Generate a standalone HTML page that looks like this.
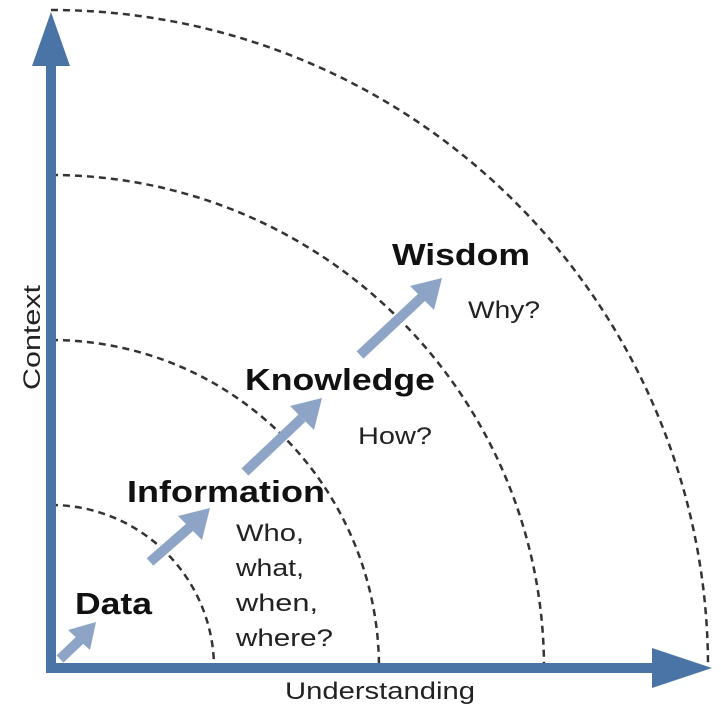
<!DOCTYPE html>
<html><head><style>body{margin:0;background:#fff}svg{display:block}</style></head><body>
<svg width="721" height="720" viewBox="0 0 721 720" xmlns="http://www.w3.org/2000/svg" font-family="Liberation Sans, sans-serif">
<rect width="721" height="720" fill="#fff"/>
<g fill="none" stroke="#333" stroke-width="2.5" stroke-dasharray="7,5">
<path d="M51 10 A657 657 0 0 1 708 668"/>
<path d="M51 175 A493 493 0 0 1 544 668"/>
<path d="M51 340 A328 328 0 0 1 379 668"/>
<path d="M51 505 A163 163 0 0 1 214 668"/>
</g>
<g fill="#4a74a6">
<rect x="46" y="60" width="10" height="613"/>
<polygon points="51,12 70,66 32,66"/>
<rect x="46" y="663" width="610" height="10"/>
<polygon points="712,668 652,648 652,688"/>
</g>
<g stroke="#8ea4c6" stroke-width="10" fill="#8ea4c6">
<line x1="60" y1="659" x2="80" y2="640"/><polygon stroke="none" points="96,622 90,650 68,630"/>
<line x1="150" y1="562" x2="190" y2="527"/><polygon stroke="none" points="210,508 202,540 178,516"/>
<line x1="245" y1="472" x2="302" y2="418"/><polygon stroke="none" points="322,398 314,430 290,406"/>
<line x1="360" y1="355" x2="422" y2="297"/><polygon stroke="none" points="442,278 434,310 410,286"/>
</g>
<g fill="#111" font-weight="bold" font-size="31">
<text x="75" y="614" textLength="77" lengthAdjust="spacingAndGlyphs">Data</text>
<text x="127" y="502" textLength="198" lengthAdjust="spacingAndGlyphs">Information</text>
<text x="245" y="390" textLength="190" lengthAdjust="spacingAndGlyphs">Knowledge</text>
<text x="392" y="265" textLength="138" lengthAdjust="spacingAndGlyphs">Wisdom</text>
</g>
<g fill="#222" font-size="24">
<text x="468" y="318" textLength="72" lengthAdjust="spacingAndGlyphs">Why?</text>
<text x="358" y="444" textLength="74" lengthAdjust="spacingAndGlyphs">How?</text>
<text x="236" y="541" textLength="68" lengthAdjust="spacingAndGlyphs">Who,</text>
<text x="236" y="576" textLength="68" lengthAdjust="spacingAndGlyphs">what,</text>
<text x="236" y="611" textLength="82" lengthAdjust="spacingAndGlyphs">when,</text>
<text x="236" y="646" textLength="97" lengthAdjust="spacingAndGlyphs">where?</text>
<text x="285" y="699" textLength="190" lengthAdjust="spacingAndGlyphs">Understanding</text>
<text transform="translate(40 390) rotate(-90)" textLength="105" lengthAdjust="spacingAndGlyphs">Context</text>
</g>
</svg>
</body></html>
